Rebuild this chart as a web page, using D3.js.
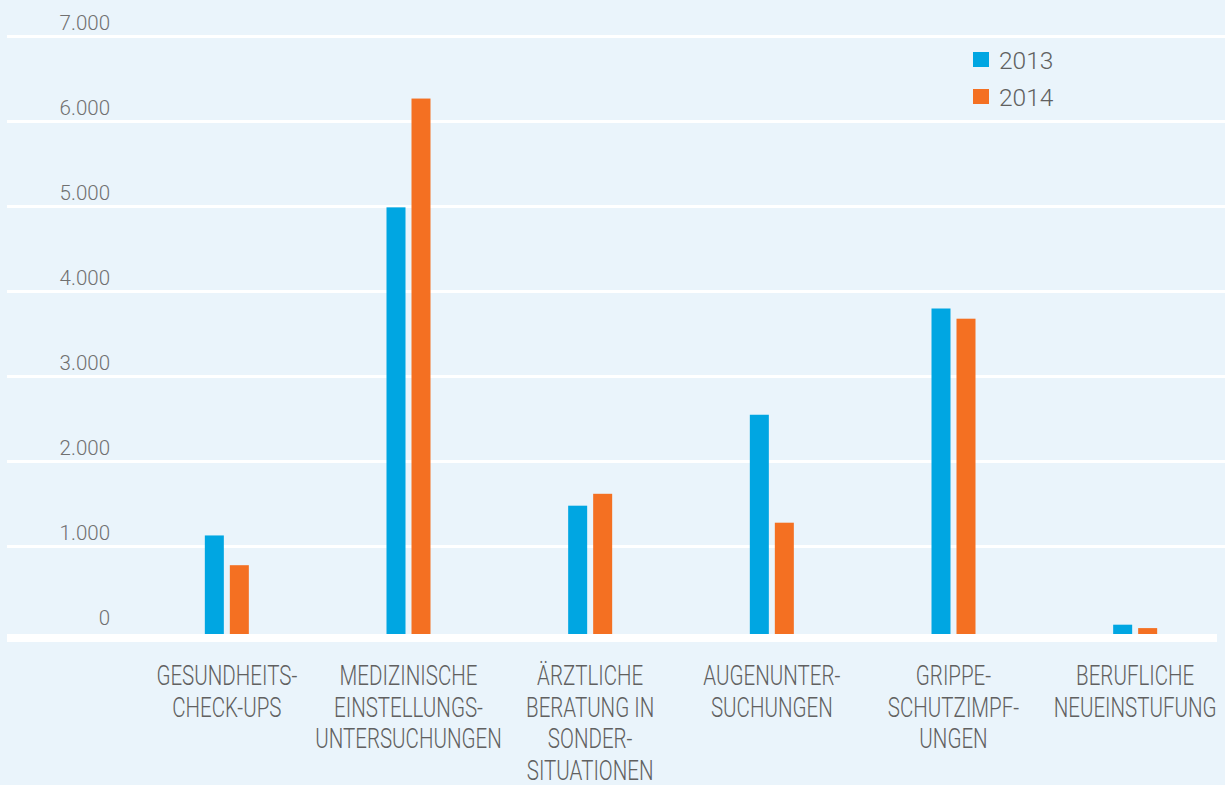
<!DOCTYPE html>
<html><head><meta charset="utf-8">
<script src="https://cdn.jsdelivr.net/npm/d3@7"></script>
<style>
html,body{margin:0;padding:0;background:#eaf4fb;}
svg{display:block;}
</style></head>
<body>
<svg id="chart" width="1225" height="785"></svg>
<script>
const categories = [
  ["GESUNDHEITS-","CHECK-UPS"],
  ["MEDIZINISCHE","EINSTELLUNGS-","UNTERSUCHUNGEN"],
  ["ÄRZTLICHE","BERATUNG IN","SONDER-","SITUATIONEN"],
  ["AUGENUNTER-","SUCHUNGEN"],
  ["GRIPPE-","SCHUTZIMPF-","UNGEN"],
  ["BERUFLICHE","NEUEINSTUFUNG"]
];
const series = ["2013","2014"];
const values2013 = [1130, 4990, 1480, 2550, 3800, 80];
const values2014 = [780, 6270, 1620, 1280, 3680, 40];
const yTicks = [0,1000,2000,3000,4000,5000,6000,7000];
const yTickLabels = ["0","1.000","2.000","3.000","4.000","5.000","6.000","7.000"];
const colors = ["#00a6e2","#f47022"];

const svg = d3.select("#chart");
const W = 1225, H = 785;
svg.append("rect").attr("width",W).attr("height",H).attr("fill","#eaf4fb");

const y = d3.scaleLinear().domain([0,7000]).range([631.5,36.5]);
const x0 = d3.scaleBand().domain(d3.range(categories.length)).range([136,1226]);
const x1 = d3.scaleBand().domain(series).range([-22,22]).paddingInner(0.24);

// gridlines
svg.append("g").selectAll("line").data(yTicks.filter(d=>d>0)).join("line")
  .attr("x1",7).attr("x2",W)
  .attr("y1",d=>y(d)).attr("y2",d=>y(d))
  .attr("stroke","#ffffff").attr("stroke-width",3);

// y labels
svg.append("g").selectAll("text").data(yTicks).join("text")
  .attr("x",110).attr("y",(d)=>y(d)-7)
  .attr("text-anchor","end")
  .attr("font-family","Roboto, 'Liberation Sans', Arial, sans-serif")
  .attr("font-weight",300)
  .attr("font-size",20.5).attr("fill","#707070")
  .text((d,i)=>yTickLabels[i]);

// bars
const data = categories.map((c,i)=>({i, vals:[values2013[i],values2014[i]]}));
const g = svg.append("g");
data.forEach(d=>{
  const cx = x0(d.i) + x0.bandwidth()/2;
  g.selectAll(null).data(series).join("rect")
    .attr("x",s=>cx + x1(s))
    .attr("width",x1.bandwidth())
    .attr("y",(s,k)=>y(d.vals[k]))
    .attr("height",(s,k)=>y(0)+4-y(d.vals[k]))
    .attr("fill",(s,k)=>colors[k]);
});

// x axis band
svg.append("rect").attr("x",7).attr("y",y(0)+2.5).attr("width",1210).attr("height",8).attr("fill","#ffffff");

// category labels (condensed look via horizontal scaling)
const lab = svg.append("g");
const condense = 0.76;
categories.forEach((lines,i)=>{
  const cx = x0(i) + x0.bandwidth()/2;
  const t = lab.append("text")
    .attr("transform",`translate(${cx},0) scale(${condense},1)`)
    .attr("text-anchor","middle")
    .attr("font-family","Roboto, 'Liberation Sans', sans-serif")
    .attr("font-weight",300)
    .attr("font-size",27).attr("fill","#606060");
  lines.forEach((ln,j)=>{
    t.append("tspan").attr("x",0).attr("y",685.5+j*31.5).text(ln);
  });
});

// legend
const leg = svg.append("g");
series.forEach((s,k)=>{
  leg.append("rect").attr("x",973).attr("y",52+k*37).attr("width",16).attr("height",15).attr("fill",colors[k]);
  leg.append("text").attr("x",999).attr("y",69+k*37)
    .attr("font-family","Roboto, 'Liberation Sans', Arial, sans-serif")
    .attr("font-weight",300)
    .attr("font-size",24.5).attr("fill","#606060").text(s);
});
</script>
</body></html>
